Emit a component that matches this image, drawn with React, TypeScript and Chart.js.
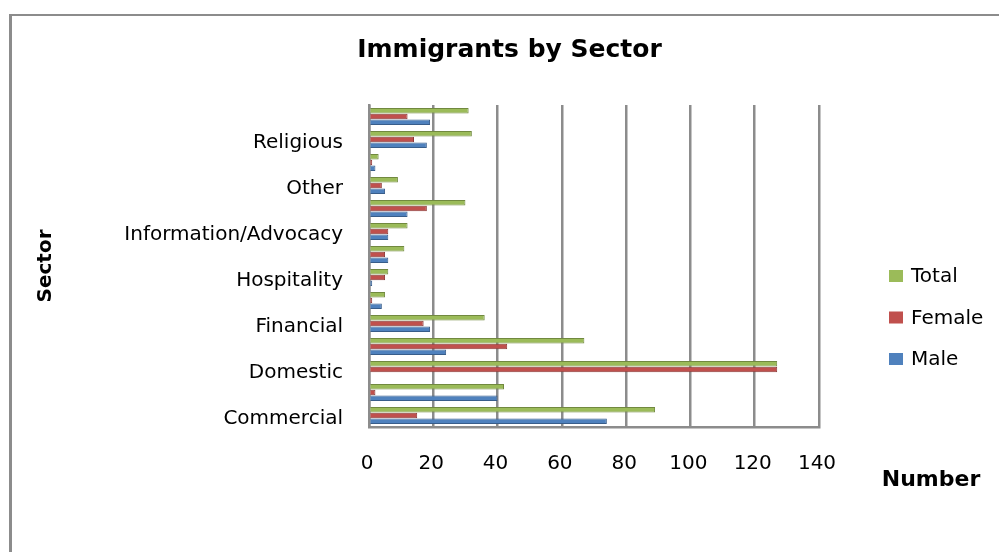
import React, { useEffect, useRef } from "react";
import { Chart, registerables } from "chart.js";

Chart.register(...registerables);

// Categories listed top to bottom as they appear on the chart
const categories: string[] = [
  "", "Religious", "", "Other", "", "Information/Advocacy", "",
  "Hospitality", "", "Financial", "", "Domestic", "", "Commercial",
];
const totalValues: number[] = [31, 32, 3, 9, 30, 12, 11, 6, 5, 36, 67, 127, 42, 89];
const femaleValues: number[] = [12, 14, 1, 4, 18, 6, 5, 5, 1, 17, 43, 127, 2, 15];
const maleValues: number[] = [19, 18, 2, 5, 12, 6, 6, 1, 4, 19, 24, 0, 40, 74];
const seriesNames: string[] = ["Total", "Female", "Male"];
const xTicks: number[] = [0, 20, 40, 60, 80, 100, 120, 140];

const FONT = '"DejaVu Sans", "Liberation Sans", sans-serif';
const GRID = "#8c8c8c";

const extrasPlugin = {
  id: "extras",
  afterDraw(chart: any) {
    const ctx = chart.ctx as CanvasRenderingContext2D;
    ctx.save();
    chart.data.datasets.forEach((ds: any, i: number) => {
      const cy = 276 + i * 41.5;
      ctx.fillStyle = ds.backgroundColor;
      ctx.fillRect(889, cy - 6, 14, 12);
      ctx.fillStyle = "#000";
      ctx.font = `20px ${FONT}`;
      ctx.textBaseline = "middle";
      ctx.textAlign = "left";
      ctx.fillText(ds.label, 911, cy + 1);
    });
    ctx.fillStyle = "#000";
    ctx.font = `bold 22px ${FONT}`;
    ctx.textAlign = "center";
    ctx.textBaseline = "middle";
    ctx.fillText("Number", 931, 480);
    ctx.restore();
  },
};

export default function App() {
  const ref = useRef<HTMLCanvasElement>(null);
  useEffect(() => {
    if (!ref.current) return;
    const chart = new Chart(ref.current, {
      type: "bar",
      data: {
        labels: categories,
        datasets: [
          {
            label: seriesNames[0],
            data: totalValues,
            backgroundColor: "#9BBB59",
            borderColor: "#71893F",
            borderWidth: 1,
          },
          {
            label: seriesNames[1],
            data: femaleValues,
            backgroundColor: "#C0504D",
            borderColor: "#8C3836",
            borderWidth: 1,
          },
          {
            label: seriesNames[2],
            data: maleValues,
            backgroundColor: "#4F81BD",
            borderColor: "#385D8A",
            borderWidth: 1,
          },
        ],
      },
      options: {
        indexAxis: "y",
        animation: false,
        responsive: false,
        maintainAspectRatio: false,
        devicePixelRatio: 1,
        datasets: {
          bar: { categoryPercentage: 0.76, barPercentage: 0.95 },
        },
        layout: { padding: { left: 30, right: 10, top: 20, bottom: 0 } },
        plugins: {
          legend: { display: false },
          tooltip: { enabled: false },
          title: {
            display: true,
            text: "Immigrants by Sector",
            color: "#000",
            font: { family: FONT, size: 25, weight: "bold" },
            padding: { top: 15, bottom: 40 },
          },
        },
        scales: {
          x: {
            type: "linear",
            position: "bottom",
            min: xTicks[0],
            max: xTicks[xTicks.length - 1],
            ticks: {
              stepSize: 20,
              color: "#000",
              font: { family: FONT, size: 20 },
              padding: 25,
              labelOffset: -2,
            },
            grid: { color: GRID, lineWidth: 2.5, drawTicks: false },
            border: { display: true, color: GRID, width: 2.5 },
            afterFit: (s: any) => {
              s.height = 125;
            },
          },
          y: {
            type: "category",
            position: "left",
            ticks: {
              color: "#000",
              font: { family: FONT, size: 20 },
              padding: 26,
              autoSkip: false,
              labelOffset: 3,
            },
            grid: { display: false, drawTicks: false },
            border: { display: true, color: GRID, width: 2.5 },
            title: {
              display: true,
              text: "Sector",
              color: "#000",
              font: { family: FONT, size: 20, weight: "bold" },
              padding: { top: 4, bottom: 0 },
            },
            afterFit: (s: any) => {
              s.width = 339;
            },
          },
          y2: {
            type: "linear",
            position: "right",
            display: true,
            ticks: { display: false },
            grid: { display: false, drawTicks: false },
            border: { display: false },
            afterFit: (s: any) => {
              s.width = 170;
            },
          },
        },
      },
      plugins: [extrasPlugin],
    } as any);
    return () => chart.destroy();
  }, []);

  return (
    <div style={{ position: "fixed", left: 0, top: 0, width: 999, height: 552, background: "#fff" }}>
      <div
        style={{
          position: "absolute",
          left: 9,
          top: 14,
          width: 1000,
          height: 600,
          borderLeft: "3px solid #8c8c8c",
          borderTop: "2px solid #8c8c8c",
        }}
      />
      <canvas
        ref={ref}
        width={999}
        height={552}
        style={{ position: "absolute", left: 0, top: 0, width: 999, height: 552 }}
      />
    </div>
  );
}
